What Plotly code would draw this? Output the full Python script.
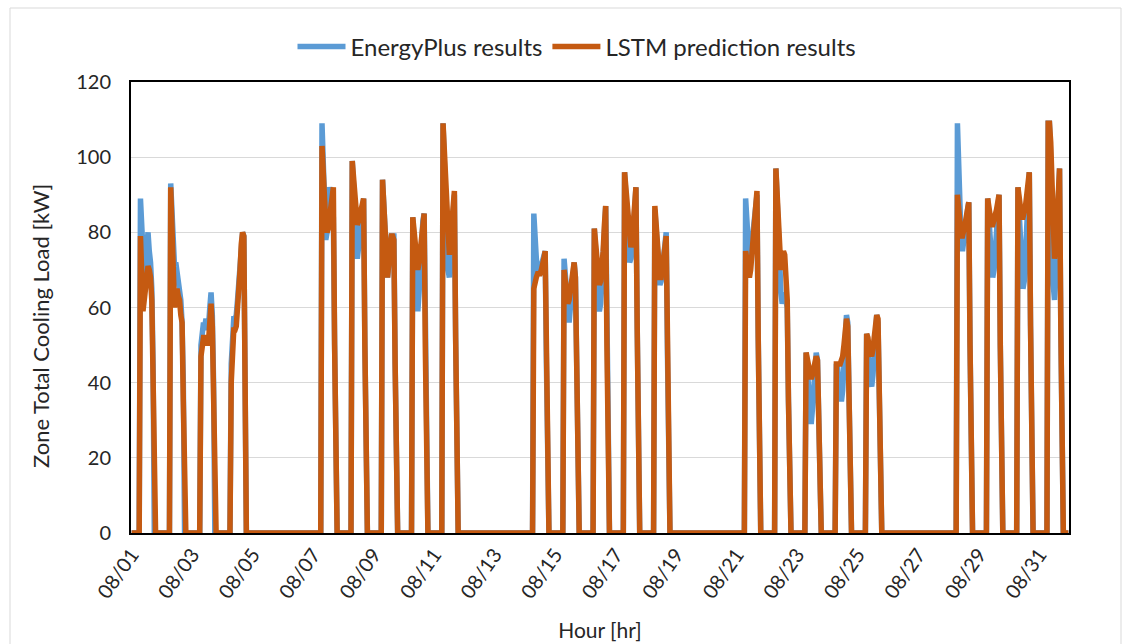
import plotly.graph_objects as go

# ---- data ----
tick_labels = ["08/01", "08/03", "08/05", "08/07", "08/09", "08/11", "08/13", "08/15",
               "08/17", "08/19", "08/21", "08/23", "08/25", "08/27", "08/29", "08/31"]
n_days = 31
occupied_hours = [7, 8, 9, 10, 11, 12, 13, 14, 15, 16, 17]
working_days = [1, 2, 3, 4, 7, 8, 9, 10, 11, 14, 15, 16, 17, 18, 21, 22, 23, 24, 25, 28, 29, 30, 31]

ep_01 = [89, 80, 70, 68, 72, 78, 80, 75, 72, 65, 45]
ep_02 = [93, 85, 75, 71, 72, 70, 68, 66, 62, 56, 40]
ep_03 = [50, 55, 56, 55, 57, 54, 55, 60, 64, 58, 40]
ep_04 = [45, 55, 57, 57, 58, 62, 66, 72, 78, 80, 79]
ep_07 = [109, 96, 84, 78, 80, 86, 92, 90, 86, 84, 50]
ep_08 = [99, 92, 84, 76, 73, 76, 80, 84, 88, 89, 50]
ep_09 = [94, 86, 78, 72, 68, 72, 78, 79, 79, 79, 45]
ep_10 = [84, 78, 70, 62, 59, 64, 72, 78, 83, 85, 48]
ep_11 = [109, 100, 88, 76, 70, 68, 74, 80, 86, 90, 52]
ep_14 = [85, 76, 73, 70, 69, 70, 71, 72, 74, 75, 45]
ep_15 = [73, 68, 62, 58, 56, 60, 66, 70, 72, 68, 40]
ep_16 = [81, 75, 68, 62, 59, 61, 66, 72, 80, 87, 50]
ep_17 = [96, 90, 82, 76, 72, 73, 76, 80, 86, 92, 55]
ep_18 = [86, 80, 73, 68, 66, 67, 70, 74, 78, 80, 48]
ep_21 = [89, 82, 75, 72, 74, 78, 82, 86, 89, 90, 52]
ep_22 = [97, 88, 78, 70, 64, 61, 62, 64, 62, 60, 35]
ep_23 = [48, 44, 38, 32, 29, 33, 40, 46, 48, 46, 25]
ep_24 = [45, 44, 40, 36, 35, 38, 45, 52, 58, 56, 30]
ep_25 = [53, 50, 44, 40, 39, 42, 48, 54, 58, 56, 30]
ep_28 = [109, 95, 84, 77, 75, 77, 80, 83, 86, 88, 50]
ep_29 = [89, 82, 75, 70, 68, 70, 76, 82, 87, 90, 50]
ep_30 = [92, 86, 78, 70, 65, 67, 74, 82, 90, 96, 55]
ep_31 = [109, 109, 100, 80, 66, 62, 68, 78, 88, 97, 55]

lstm_01 = [79, 70, 59, 62, 66, 71, 71, 70, 68, 62, 40]
lstm_02 = [92, 80, 62, 60, 63, 65, 63, 62, 58, 56, 35]
lstm_03 = [47, 51, 52, 52, 51, 50, 51, 55, 61, 55, 35]
lstm_04 = [40, 50, 54, 54, 55, 60, 64, 70, 77, 80, 79]
lstm_07 = [103, 94, 86, 82, 80, 81, 84, 88, 91, 92, 50]
lstm_08 = [99, 94, 88, 84, 82, 83, 85, 87, 89, 89, 50]
lstm_09 = [94, 88, 80, 74, 68, 72, 78, 79, 79, 78, 45]
lstm_10 = [84, 80, 76, 72, 70, 72, 76, 80, 84, 85, 48]
lstm_11 = [109, 102, 92, 82, 76, 74, 78, 83, 88, 91, 52]
lstm_14 = [65, 68, 68, 69, 69, 69, 70, 71, 73, 75, 45]
lstm_15 = [70, 67, 63, 61, 62, 65, 69, 72, 72, 68, 40]
lstm_16 = [81, 77, 71, 67, 66, 67, 70, 75, 82, 87, 50]
lstm_17 = [96, 92, 85, 80, 77, 76, 78, 82, 87, 92, 55]
lstm_18 = [87, 82, 75, 70, 68, 68, 70, 73, 76, 79, 48]
lstm_21 = [75, 72, 69, 68, 70, 74, 78, 83, 88, 91, 52]
lstm_22 = [97, 90, 80, 72, 70, 72, 75, 74, 68, 62, 35]
lstm_23 = [48, 46, 43, 42, 41, 42, 44, 46, 47, 46, 25]
lstm_24 = [45, 45, 45, 45, 46, 47, 50, 54, 57, 55, 30]
lstm_25 = [53, 52, 49, 47, 47, 49, 52, 55, 58, 57, 30]
lstm_28 = [90, 86, 82, 79, 79, 80, 82, 84, 86, 88, 50]
lstm_29 = [89, 86, 83, 82, 82, 83, 84, 86, 88, 90, 50]
lstm_30 = [92, 89, 86, 84, 84, 85, 87, 90, 93, 96, 55]
lstm_31 = [109, 109, 104, 88, 76, 73, 76, 82, 90, 97, 55]

ep_days = [ep_01, ep_02, ep_03, ep_04, ep_07, ep_08, ep_09, ep_10, ep_11, ep_14, ep_15, ep_16,
           ep_17, ep_18, ep_21, ep_22, ep_23, ep_24, ep_25, ep_28, ep_29, ep_30, ep_31]
lstm_days = [lstm_01, lstm_02, lstm_03, lstm_04, lstm_07, lstm_08, lstm_09, lstm_10, lstm_11,
             lstm_14, lstm_15, lstm_16, lstm_17, lstm_18, lstm_21, lstm_22, lstm_23, lstm_24,
             lstm_25, lstm_28, lstm_29, lstm_30, lstm_31]

# ---- assemble hourly series ----
n_hours = n_days * 24
hours = list(range(n_hours))
ep = [0.0] * n_hours
lstm = [0.0] * n_hours
for d, e_vals, l_vals in zip(working_days, ep_days, lstm_days):
    for h, ev, lv in zip(occupied_hours, e_vals, l_vals):
        idx = (d - 1) * 24 + h
        ep[idx] = ev
        lstm[idx] = lv

tick_vals = [(int(t.split("/")[1]) - 1) * 24 for t in tick_labels]

FONT = "Lato, 'Open Sans', sans-serif"
BLUE = "#5B9BD5"
ORANGE = "#C55A11"

fig = go.Figure()
fig.add_trace(go.Scatter(x=hours, y=ep, mode="lines", name="EnergyPlus results",
                         line=dict(color=BLUE, width=5.5)))
fig.add_trace(go.Scatter(x=hours, y=lstm, mode="lines", name="LSTM prediction results",
                         line=dict(color=ORANGE, width=5.5)))

L, R, T, B = 131, 62, 82, 111
W, H = 1131, 644
pw = W - L - R
ph = H - T - B

fig.update_layout(
    width=W, height=H,
    margin=dict(l=L, r=R, t=T, b=B, autoexpand=False),
    paper_bgcolor="white", plot_bgcolor="white",
    font=dict(family=FONT, size=19, color="#262626"),
    showlegend=True,
    legend=dict(orientation="h", x=(577 - L) / pw, xanchor="center",
                y=1 + (T - 47) / ph, yanchor="middle",
                font=dict(size=24, color="#262626"), itemwidth=48,
                bgcolor="rgba(0,0,0,0)"),
    xaxis=dict(range=[-0.5, n_hours - 0.5], tickmode="array", tickvals=tick_vals,
               ticktext=tick_labels, tickangle=-55, showgrid=False, zeroline=False,
               showline=True, linecolor="black", linewidth=2, mirror=True,
               ticks="", tickfont=dict(size=20), automargin=False,
               title=dict(text="Hour [hr]", font=dict(size=21), standoff=22)),
    yaxis=dict(range=[0, 120], dtick=20, showgrid=True, gridcolor="#D9D9D9", gridwidth=1,
               zeroline=False, showline=True, linecolor="black", linewidth=2, mirror=True,
               ticks="", tickfont=dict(size=20), ticklabelstandoff=14, automargin=False),
    annotations=[dict(text="Zone Total Cooling Load [kW]", textangle=-90,
                      xref="paper", yref="paper", x=(40 - L) / pw, y=(H - B - 326) / ph,
                      xanchor="center", yanchor="middle", showarrow=False,
                      font=dict(size=22, color="#262626"))],
    shapes=[dict(type="rect", xref="paper", yref="paper",
                 x0=(10 - L) / pw, x1=(1121 - L) / pw,
                 y0=-(B + 20) / ph, y1=(H - B - 8) / ph,
                 line=dict(color="#D9D9D9", width=1), layer="below")],
)

fig.write_html("out.html")
